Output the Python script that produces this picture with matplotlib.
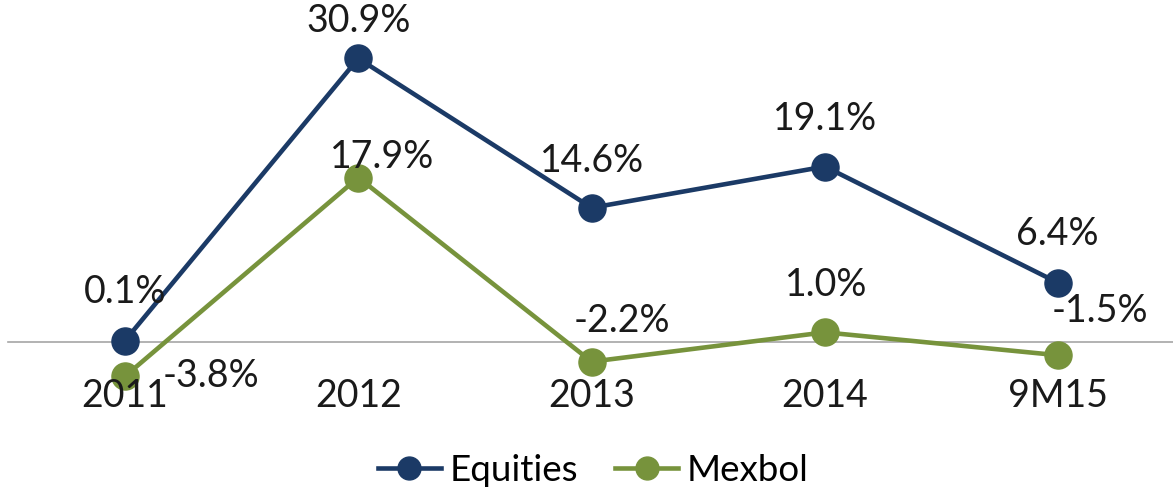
import matplotlib
matplotlib.use("Agg")
import matplotlib.pyplot as plt
from matplotlib.lines import Line2D

categories = ["2011", "2012", "2013", "2014", "9M15"]
equities = [0.1, 30.9, 14.6, 19.1, 6.4]
mexbol = [-3.8, 17.9, -2.2, 1.0, -1.5]
series_names = ["Equities", "Mexbol"]

# label offsets (points) relative to each point, and alignment
eq_offsets = [(0, 27), (0, 19), (0, 26), (0, 26), (-1, 27)]
eq_ha = ["center"] * 5
mx_offsets = [(27, -8), (17, 7), (22, 21), (1, 26), (30, 24)]
mx_ha = ["left", "center", "center", "center", "center"]

navy = "#1B3A66"
green = "#77933C"
FONT = "Lato"

plt.rcParams["font.family"] = [FONT, "DejaVu Sans"]

W, H = 1173, 498
fig = plt.figure(figsize=(W / 100, H / 100), dpi=100)
ax = fig.add_axes([0, 0, 1, 1])
ax.set_axis_off()

zero_px = 341.5
scale = 9.16
spacing = 233.3
x0 = 125
ax.set_ylim(-(H - zero_px) / scale, zero_px / scale)
ax.set_xlim(-x0 / spacing, (W - x0) / spacing)

ax.axhline(0, xmin=8 / W, xmax=1, color="#A6A6A6", lw=1.2, zorder=1)

xs = list(range(len(categories)))
ax.plot(xs, mexbol, color=green, lw=3.3, marker="o", ms=19.5, zorder=3,
        solid_capstyle="round")
ax.plot(xs, equities, color=navy, lw=3.3, marker="o", ms=19.5, zorder=4,
        solid_capstyle="round")

fs = 27
for i, v in enumerate(equities):
    dx, dy = eq_offsets[i]
    ax.annotate(f"{v:.1f}%", (i, v), xytext=(dx, dy), textcoords="offset points",
                ha=eq_ha[i], va="baseline", fontsize=fs, color="#1a1a1a", zorder=5)
for i, v in enumerate(mexbol):
    dx, dy = mx_offsets[i]
    ax.annotate(f"{v:.1f}%", (i, v), xytext=(dx, dy), textcoords="offset points",
                ha=mx_ha[i], va="baseline", fontsize=fs, color="#1a1a1a", zorder=5)

for i, c in enumerate(categories):
    ax.annotate(c, (i, 0), xytext=(0, -47.5), textcoords="offset points",
                ha="center", va="baseline", fontsize=fs, color="#1a1a1a", zorder=5)

handles = [Line2D([0], [0], color=navy, lw=3.3, marker="o", ms=16.5),
           Line2D([0], [0], color=green, lw=3.3, marker="o", ms=16.5)]
fig.legend(handles, series_names, loc="center", bbox_to_anchor=(0.506, 0.056),
           ncol=2, frameon=False, fontsize=26.5, handlelength=1.7,
           handletextpad=0.25, columnspacing=1.0, borderpad=0)

fig.savefig("out.png", dpi=100)
